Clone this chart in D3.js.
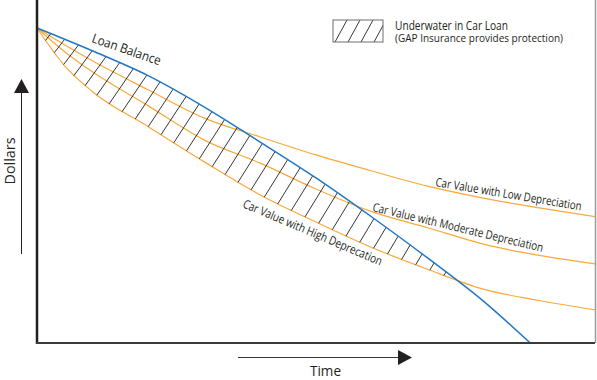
<!DOCTYPE html>
<html><head><meta charset="utf-8">
<script src="https://cdn.jsdelivr.net/npm/d3@7"></script>
<style>
body{margin:0;background:#fff}
svg{display:block}
text{font-family:"Open Sans",sans-serif;fill:#231f20}
</style>
</head><body>
<svg id="chart" width="597" height="380"></svg>
<script>
// ---- data (time 0..100, dollars 0..100) ----
const timeSteps   = [0,5,10,20,30,40,50,60,70,80,90,100];
const loanTime    = [0,10,20,30,40,50,60,70,80,88.4];
const loanBalance = [100,92.7,84.8,74.9,63.8,52.4,40.0,27.0,13.3,0];
const lowDep      = [100,94.6,89.5,80.3,71.4,65.4,59.7,54.6,49.8,46.0,42.9,40.1];
const modDep      = [100,92.4,86.0,75.2,64.4,57.1,48.9,41.7,36.6,31.4,27.8,25.1];
const highDep     = [100,87.9,79.7,68.6,57.5,47.0,38.4,30.3,23.4,17.1,13.5,10.5];
const curveLabels = ["Loan Balance","Car Value with Low Depreciation","Car Value with Moderate Depreciation","Car Value with High Deprecation"];
const legendLabels = ["Underwater in Car Loan","(GAP Insurance provides protection)"];
const axisLabels = ["Dollars","Time"];

const svg = d3.select("#chart");
const x = d3.scaleLinear().domain([0,100]).range([37,595]);
const y = d3.scaleLinear().domain([0,100]).range([343,28]);

const line = d3.line().x(d=>x(d[0])).y(d=>y(d[1])).curve(d3.curveMonotoneX);
const zip = (t,v)=>t.map((ti,i)=>[ti,v[i]]);

const ORANGE = "#f9a93a", BLUE = "#1f78c4", INK = "#231f20";

// frame
svg.append("line").attr("x1",595.5).attr("x2",595.5).attr("y1",0).attr("y2",343)
  .attr("stroke","#9a9a9a").attr("stroke-width",1.5);

// curves
const gCurves = svg.append("g").attr("fill","none");
const pHigh = gCurves.append("path").attr("d",line(zip(timeSteps,highDep))).attr("stroke",ORANGE).attr("stroke-width",1.2);
gCurves.append("path").attr("d",line(zip(timeSteps,modDep))).attr("stroke",ORANGE).attr("stroke-width",1.2);
gCurves.append("path").attr("d",line(zip(timeSteps,lowDep))).attr("stroke",ORANGE).attr("stroke-width",1.2);

// hatch between loan balance and high-depreciation curve
const pLoan = svg.append("path").attr("d",line(zip(loanTime,loanBalance))).attr("fill","none");
(function(){
  const ln = pLoan.node(), hn = pHigh.node();
  const Ll = ln.getTotalLength(), Lh = hn.getTotalLength();
  function samples(n,L){const a=[];for(let s=0;s<=L;s+=0.5){const p=n.getPointAtLength(s);a.push({s,x:p.x,y:p.y});}return a;}
  const sl = samples(ln,Ll), sh = samples(hn,Lh);
  function yAt(a,xx){let i=d3.bisector(d=>d.x).left(a,xx);i=Math.max(1,Math.min(a.length-1,i));const p=a[i-1],q=a[i];const t=(xx-p.x)/((q.x-p.x)||1);return {y:p.y+t*(q.y-p.y),s:p.s+t*(q.s-p.s)};}
  let cx=null;
  for(let xx=80;xx<590;xx+=0.5){ if(yAt(sl,xx).y>=yAt(sh,xx).y){cx=xx;break;} }
  const sL = yAt(sl,cx).s, sH = yAt(sh,cx).s;
  const N = Math.round(sL/15);
  const g = svg.append("g").attr("stroke",INK).attr("stroke-width",0.9);
  for(let i=1;i<N;i++){
    const f=i/N;
    const a=ln.getPointAtLength(f*sL), b=hn.getPointAtLength(f*sH);
    g.append("line").attr("x1",b.x).attr("y1",b.y).attr("x2",a.x).attr("y2",a.y);
  }
})();
pLoan.attr("stroke",BLUE).attr("stroke-width",1.5).raise();

// axes
svg.append("line").attr("x1",37).attr("x2",37).attr("y1",0).attr("y2",344).attr("stroke",INK).attr("stroke-width",2.5);
svg.append("line").attr("x1",36).attr("x2",595).attr("y1",343).attr("y2",343).attr("stroke","#3a3a3a").attr("stroke-width",2.2);

// axis arrows
svg.append("line").attr("x1",21.5).attr("x2",21.5).attr("y1",254).attr("y2",92).attr("stroke",INK).attr("stroke-width",1);
svg.append("path").attr("d","M21.5,79 L29,93 L14,93 Z").attr("fill",INK);
svg.append("line").attr("x1",238).attr("x2",400).attr("y1",357.5).attr("y2",357.5).attr("stroke","#3a3a3a").attr("stroke-width",1.2);
svg.append("path").attr("d","M412,357.5 L398,350 L398,365 Z").attr("fill",INK);

svg.append("text").attr("transform","translate(15,161) rotate(-90)").attr("text-anchor","middle")
  .attr("font-size",14).attr("textLength",47).attr("lengthAdjust","spacingAndGlyphs").text(axisLabels[0]);
svg.append("text").attr("x",310).attr("y",376).attr("font-size",15).attr("textLength",31).attr("lengthAdjust","spacingAndGlyphs").text(axisLabels[1]);

// curve labels
const labelPos = [
  {x:91,y:42,a:19,len:72,fs:13},
  {x:435,y:186,a:9.5,len:148,fs:12},
  {x:372,y:211,a:13.5,len:175,fs:12},
  {x:242,y:207,a:23,len:150,fs:12}
];
curveLabels.forEach((t,i)=>{
  const p=labelPos[i];
  svg.append("text").attr("transform",`translate(${p.x},${p.y}) rotate(${p.a})`)
    .attr("font-size",p.fs).attr("textLength",p.len).attr("lengthAdjust","spacingAndGlyphs").text(t);
});

// legend
const lg = svg.append("g");
lg.append("clipPath").attr("id","lgclip").append("rect").attr("x",333).attr("y",20).attr("width",50).attr("height",22);
const hg = lg.append("g").attr("clip-path","url(#lgclip)").attr("stroke",INK).attr("stroke-width",0.9);
[0,1,2,3].forEach(i=>{
  hg.append("line").attr("x1",335+13*i).attr("y1",42).attr("x2",347+13*i).attr("y2",20);
});
lg.append("rect").attr("x",333).attr("y",20).attr("width",50).attr("height",22).attr("fill","none").attr("stroke","#6d6e71").attr("stroke-width",1);
lg.append("text").attr("x",395).attr("y",30).attr("font-size",12.5).attr("textLength",113).attr("lengthAdjust","spacingAndGlyphs").text(legendLabels[0]);
lg.append("text").attr("x",395).attr("y",42).attr("font-size",10.5).attr("textLength",168).attr("lengthAdjust","spacingAndGlyphs").text(legendLabels[1]);
</script>
</body></html>
